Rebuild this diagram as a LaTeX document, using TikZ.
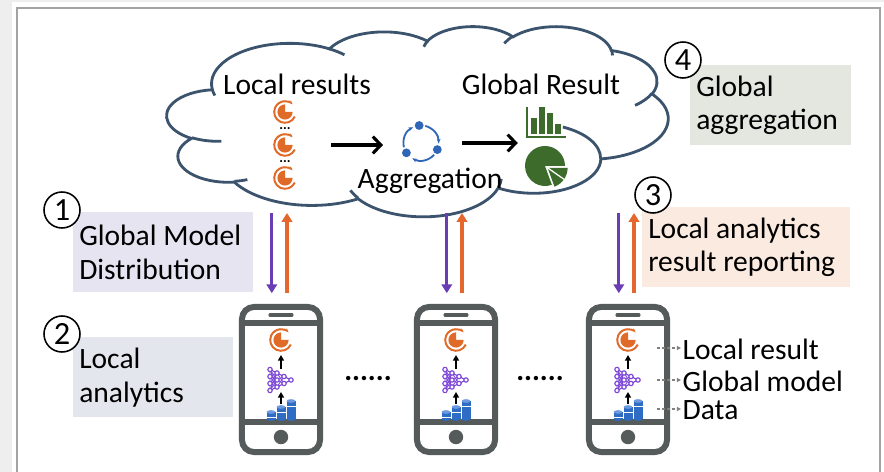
\documentclass[tikz,border=0pt]{standalone}
\usepackage{fontspec}
\setmainfont{Carlito}
\usetikzlibrary{arrows.meta,calc}

\definecolor{bggray}{HTML}{EEEEEE}
\definecolor{framegray}{HTML}{A3A3A3}
\definecolor{cloudline}{HTML}{3B536C}
\definecolor{phgray}{HTML}{555B5B}
\definecolor{distpurple}{HTML}{6A3DB4}
\definecolor{reporange}{HTML}{E4682E}
\definecolor{resorange}{HTML}{E06A28}
\definecolor{aggblue}{HTML}{2F66B8}
\definecolor{netpurple}{HTML}{7C45D8}
\definecolor{dbblue}{HTML}{2F6CC4}
\definecolor{dbtop}{HTML}{6C9AE0}
\definecolor{gresgreen}{HTML}{3D6B2C}
\definecolor{boxlav}{HTML}{E7E4F1}
\definecolor{boxgray}{HTML}{E4E6EE}
\definecolor{boxpeach}{HTML}{FBEADF}
\definecolor{boxsage}{HTML}{E3E7E0}

\tikzset{
  txt/.style={font=\fontsize{21}{24}\selectfont, inner sep=1pt},
  stepnum/.style={circle, draw, fill=white, line width=1.1pt, minimum size=0.9cm,
    inner sep=0pt, font=\fontsize{23}{24}\selectfont},
  stage/.style={anchor=north west, align=flush left, inner xsep=0.15cm, minimum height=2cm,
    font=\fontsize{21}{24}\selectfont},
  phone/.style={draw=phgray, line width=0.15cm, rounded corners=0.3cm,
    minimum width=1.95cm, minimum height=3.625cm},
  icon/.style={minimum size=#1, inner sep=0pt},
  puff/.style={cloudline, line width=2pt},
  distarrow/.style={distpurple, line width=2.4pt, -{Triangle[length=0.22cm,width=0.26cm]}},
  reparrow/.style={reporange, line width=2.4pt, -{Triangle[length=0.22cm,width=0.26cm]}},
  flow/.style={line width=2.2pt, -{Straight Barb[length=0.2cm,width=0.42cm]}},
  uptick/.style={line width=1.4pt, -{Triangle[length=0.14cm,width=0.15cm]}},
  tagarrow/.style={gray, dash pattern=on 2pt off 1.5pt, line width=0.8pt,
    -{Triangle[length=3pt,width=3pt]}},
  % local analytics result: pie with a curled arrow round it
  respie/.pic={
    \fill[resorange] (0,0) -- (90:0.19cm) arc (90:360:0.19cm) -- cycle;
    \draw[resorange, line width=1.4pt, -{Stealth[length=3pt]}]
      (-25:0.27cm) arc (-25:-315:0.27cm);
  },
  % aggregation: three dots chasing each other
  aggicon/.pic={
    \foreach \a in {96,-22,-146} {
      \fill[aggblue] (\a:0.44cm) circle (0.11cm);
      \draw[aggblue, line width=1.3pt, -{Stealth[length=3.5pt]}]
        (\a-20:0.44cm) arc (\a-20:\a-98:0.44cm);
    }
  },
  % global result: bar chart over a pie chart
  gresicon/.pic={
    \draw[gresgreen, line width=1.5pt] (-18,-37) -- (-18,-7) -- (21,-7);
    \foreach \bx/\bt in {-11/-26, -3/-37, 5/-31, 13/-20}
      \fill[gresgreen] (\bx-3,-10) rectangle (\bx+3,\bt);
    \fill[gresgreen] (0,22) -- +(0:0.5cm) arc (0:290:0.5cm) -- cycle;
    \fill[gresgreen] ([shift={(-35:0.08cm)}]0,22) -- +(-70:0.5cm) arc (-70:0:0.5cm) -- cycle;
    \draw[white, line width=0.9pt] ([shift={(-35:0.08cm)}]0,22) -- +(-35:0.5cm);
  },
  % global model: small neural network
  netw/.pic={
    \foreach \ya in {-10.5,-3.5,3.5,10.5} \foreach \yb in {-7,0,7}
      \draw[netpurple, line width=0.6pt] (-11,\ya) -- (-4,\yb);
    \foreach \ya in {-7,0,7} \foreach \yb in {-3.5,3.5}
      \draw[netpurple, line width=0.6pt] (-4,\ya) -- (3,\yb);
    \foreach \ya in {-3.5,3.5}
      \draw[netpurple, line width=0.6pt] (3,\ya) -- (10,0);
    \draw[netpurple, line width=0.6pt] (-11,-10.5) -- (10,0) -- (-11,10.5) -- cycle;
    \foreach \p in {(-11,-10.5),(-11,-3.5),(-11,3.5),(-11,10.5),(-4,-7),(-4,0),(-4,7),(3,-3.5),(3,3.5),(10,0)}
      \filldraw[netpurple, fill=white, line width=0.8pt] \p circle (0.055cm);
  },
  % data: three database cylinders
  dbase/.pic={
    \foreach \xc/\tp in {-10/-7, 0/-12, 10/-18} {
      \fill[dbblue] (\xc-4.5,0) rectangle (\xc+4.5,\tp);
      \fill[dbblue] (\xc,0) ellipse [x radius=0.1125cm, y radius=0.045cm];
      \draw[white, line width=0.5pt] (\xc-4.5,\tp+5) -- (\xc+4.5,\tp+5);
      \fill[dbtop] (\xc,\tp) ellipse [x radius=0.1125cm, y radius=0.045cm];
    }
  }
}

\begin{document}
\begin{tikzpicture}[x=0.025cm, y=-0.025cm]
  \useasboundingbox (0,0) rectangle (884,472);
  \fill[bggray] (0,0) rectangle (884,472);
  \fill[white] (12,2) rectangle (884,472);
  \draw[framegray, line width=1pt] (17,8) rectangle (880,482);

  % the cloud, eleven puffs and the folds between them
  \begin{scope}[shift={(167,26)}, x=0.028993cm, y=-0.010995cm]
    \draw[puff, fill=white] (39,143.7)
      arc[start angle=-187.75, delta angle=128.11, x radius=67.53, y radius=91.90]
      arc[start angle=-152.02, delta angle=106.56, x radius=53.33, y radius=72.67]
      arc[start angle=-153.49, delta angle=116.14, x radius=43.65, y radius=59.45]
      arc[start angle=-139.71, delta angle=129.50, x radius=48.57, y radius=65.95]
      arc[start angle=-74.77,  delta angle=97.98,  x radius=53.33, y radius=72.73]
      arc[start angle=-37.52,  delta angle=119.38, x radius=67.75, y radius=92.20]
      arc[start angle=0.46,    delta angle=121.52, x radius=57.85, y radius=78.67]
      arc[start angle=16.84,   delta angle=129.39, x radius=67.52, y radius=92.15]
      arc[start angle=58.98,   delta angle=91.22,  x radius=77.20, y radius=105.43]
      arc[start angle=-276.69, delta angle=139.79, x radius=43.60, y radius=59.18]
      arc[start angle=-239.65, delta angle=143.76, x radius=43.45, y radius=59.45]
      -- cycle;
    \draw[puff]
      (46.93,261.77) arc[start angle=85.55,  delta angle=34.82, x radius=43.45, y radius=59.45]
      (69.28,348.99) arc[start angle=68.23,  delta angle=15.08, x radius=43.60, y radius=59.18]
      (164.78,390.9) arc[start angle=146.23, delta angle=12.24, x radius=67.52, y radius=92.15]
      (288.27,347.51) arc[start angle=4.74,  delta angle=12.10, x radius=67.52, y radius=92.15]
      (341.29,229.54) arc[start angle=-64.03, delta angle=64.49, x radius=57.85, y radius=78.67]
      (417.98,153.54) arc[start angle=23.21, delta angle=26.42, x radius=53.33, y radius=72.73]
      (383.24,54.26) arc[start angle=-10.21, delta angle=11.03, x radius=48.57, y radius=65.95]
      (290.78,39.52) arc[start angle=-156.29, delta angle=16.58, x radius=48.57, y radius=65.95]
      (221.41,47.2)  arc[start angle=-167.73, delta angle=14.24, x radius=43.65, y radius=59.45]
      (140,51.92)    arc[start angle=-59.64, delta angle=13.90, x radius=67.53, y radius=91.90]
      (41.27,157.89) arc[start angle=163.19, delta angle=9.06,  x radius=67.53, y radius=91.90];
  \end{scope}

  \node[txt] (lrtitle) at (297,84) {Local results};
  \node[txt] (grtitle) at (541,84) {Global Result};
  \node[txt] (aggtxt) at (430,181) {Aggregation};

  \foreach \y [count=\i] in {112,145,178} {
    \node[icon=0.5cm] (lr\i) at (285,\y) {};
    \pic at (lr\i) {respie};
  }
  \node[font=\fontsize{10}{10}\bfseries\selectfont] (ld1) at (285,129) {...};
  \node[font=\fontsize{10}{10}\bfseries\selectfont] (ld2) at (285,162) {...};

  \node[icon=1.1cm] (aggr) at (421,143) {};
  \pic at (aggr) {aggicon};
  \node[icon=1.1cm] (gres) at (545,144) {};
  \pic at (gres) {gresicon};

  \draw[flow, shorten <=0.9cm, shorten >=0.95cm] (lr2) -- (lr2 -| aggr);
  \draw[flow, shorten <=0.47cm, shorten >=0.68cm] (aggr) -- (aggr -| gres);

  % steps
  \node[stage, fill=boxsage, text width=3.725cm] (gagg) at (690,65) {Global\\aggregation};
  \node[stepnum] (n4) at (683,60) {4};
  \node[stage, fill=boxpeach, text width=4.9cm] (lrep) at (642,207) {Local analytics\\result reporting};
  \node[stepnum] (n3) at (653,195) {3};
  \node[stage, fill=boxlav, text width=4.2cm] (gdist) at (73,212) {Global Model\\Distribution};
  \node[stepnum] (n1) at (62,210) {1};
  \node[stage, fill=boxgray, text width=3.7cm] (lana) at (73,337) {Local\\analytics};
  \node[stepnum] (n2) at (62,334) {2};

  % phones
  \coordinate (cb) at (418,213);
  \foreach \x [count=\i] in {281,456,628} {
    \node[phone] (ph\i) at (\x,379.5) {};
    \draw[phgray, line width=0.15cm] ($(ph\i.north west)+(0,19)$) -- ($(ph\i.north east)+(0,19)$);
    \draw[phgray, line width=0.15cm] ($(ph\i.south west)+(0,-33)$) -- ($(ph\i.south east)+(0,-33)$);
    \draw[phgray, line width=2.2pt, line cap=round] ($(ph\i.north)+(-11,11)$) -- ($(ph\i.north)+(11,11)$);
    \fill[phgray] ($(ph\i.south)+(0,-18)$) circle (0.18cm);
    \pic at (\x,340) {respie};
    \draw[uptick] (\x,369) -- (\x,355);
    \pic at (\x,380) {netw};
    \draw[uptick] (\x,404) -- (\x,392);
    \pic at (\x,419) {dbase};
    \draw[distarrow] ([xshift=-0.23cm]ph\i.north |- cb) -- ([xshift=-0.23cm,yshift=0.27cm]ph\i.north);
    \draw[reparrow] ([xshift=0.15cm,yshift=0.27cm]ph\i.north) -- ([xshift=0.15cm]ph\i.north |- cb);
  }
  \node[font=\fontsize{21}{24}\bfseries\selectfont] (gap1) at (368,379) {......};
  \node[font=\fontsize{21}{24}\bfseries\selectfont] (gap2) at (540,379) {......};

  % what the icons stand for
  \node[txt, anchor=west] (tlres) at (681,349) {Local result};
  \node[txt, anchor=west] (tgmod) at (681,381) {Global model};
  \node[txt, anchor=west] (tdata) at (681,410) {Data};
  \coordinate (s1) at (657,348);
  \coordinate (s2) at (657,380);
  \coordinate (s3) at (657,409);
  \draw[tagarrow] (s1) -- (s1 -| tlres.west);
  \draw[tagarrow] (s2) -- (s2 -| tgmod.west);
  \draw[tagarrow] (s3) -- (s3 -| tdata.west);
\end{tikzpicture}
\end{document}
